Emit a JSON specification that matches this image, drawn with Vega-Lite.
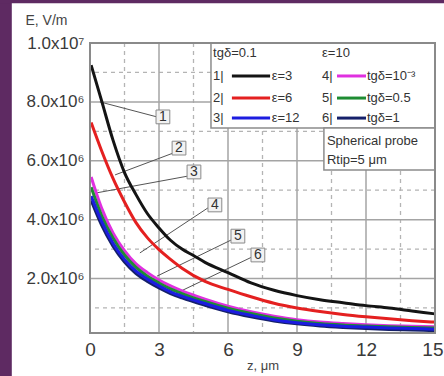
{
  "$schema": "https://vega.github.io/schema/vega-lite/v6.json",
  "width": 345,
  "height": 290,
  "autosize": "none",
  "padding": {"left": 90, "top": 43, "right": 9, "bottom": 43},
  "background": "#ffffff",
  "config": {"font": "Liberation Sans", "view": {"stroke": null}},
  "datasets": {
    "curves": [
      {"s": "1", "z": 0.05, "E": 9250000}, {"s": "1", "z": 0.5, "E": 8050000}, {"s": "1", "z": 1, "E": 6700000}, {"s": "1", "z": 1.5, "E": 5600000}, {"s": "1", "z": 2, "E": 4850000}, {"s": "1", "z": 2.5, "E": 4200000}, {"s": "1", "z": 3, "E": 3720000}, {"s": "1", "z": 3.5, "E": 3300000}, {"s": "1", "z": 4, "E": 3000000}, {"s": "1", "z": 4.5, "E": 2780000}, {"s": "1", "z": 5, "E": 2550000}, {"s": "1", "z": 6, "E": 2200000}, {"s": "1", "z": 7, "E": 1850000}, {"s": "1", "z": 8, "E": 1600000}, {"s": "1", "z": 9, "E": 1420000}, {"s": "1", "z": 10, "E": 1280000}, {"s": "1", "z": 11, "E": 1180000}, {"s": "1", "z": 12, "E": 1080000}, {"s": "1", "z": 13, "E": 1000000}, {"s": "1", "z": 14, "E": 900000}, {"s": "1", "z": 15, "E": 800000},
      {"s": "2", "z": 0.05, "E": 7300000}, {"s": "2", "z": 0.5, "E": 6350000}, {"s": "2", "z": 1, "E": 5400000}, {"s": "2", "z": 1.5, "E": 4600000}, {"s": "2", "z": 2, "E": 3900000}, {"s": "2", "z": 2.5, "E": 3380000}, {"s": "2", "z": 3, "E": 2980000}, {"s": "2", "z": 3.5, "E": 2650000}, {"s": "2", "z": 4, "E": 2350000}, {"s": "2", "z": 5, "E": 1900000}, {"s": "2", "z": 6, "E": 1630000}, {"s": "2", "z": 7, "E": 1380000}, {"s": "2", "z": 8, "E": 1160000}, {"s": "2", "z": 9, "E": 1000000}, {"s": "2", "z": 10, "E": 880000}, {"s": "2", "z": 11, "E": 780000}, {"s": "2", "z": 12, "E": 700000}, {"s": "2", "z": 13, "E": 630000}, {"s": "2", "z": 14, "E": 570000}, {"s": "2", "z": 15, "E": 520000},
      {"s": "4", "z": 0.05, "E": 5450000}, {"s": "4", "z": 0.5, "E": 4400000}, {"s": "4", "z": 1, "E": 3550000}, {"s": "4", "z": 1.5, "E": 2950000}, {"s": "4", "z": 2, "E": 2500000}, {"s": "4", "z": 2.5, "E": 2200000}, {"s": "4", "z": 3, "E": 1950000}, {"s": "4", "z": 3.5, "E": 1750000}, {"s": "4", "z": 4, "E": 1580000}, {"s": "4", "z": 5, "E": 1300000}, {"s": "4", "z": 6, "E": 1060000}, {"s": "4", "z": 7, "E": 870000}, {"s": "4", "z": 8, "E": 720000}, {"s": "4", "z": 9, "E": 600000}, {"s": "4", "z": 10, "E": 520000}, {"s": "4", "z": 11, "E": 470000}, {"s": "4", "z": 12, "E": 430000}, {"s": "4", "z": 13, "E": 400000}, {"s": "4", "z": 14, "E": 380000}, {"s": "4", "z": 15, "E": 360000},
      {"s": "5", "z": 0.05, "E": 5100000}, {"s": "5", "z": 0.5, "E": 4150000}, {"s": "5", "z": 1, "E": 3380000}, {"s": "5", "z": 1.5, "E": 2800000}, {"s": "5", "z": 2, "E": 2380000}, {"s": "5", "z": 2.5, "E": 2080000}, {"s": "5", "z": 3, "E": 1850000}, {"s": "5", "z": 3.5, "E": 1650000}, {"s": "5", "z": 4, "E": 1490000}, {"s": "5", "z": 5, "E": 1220000}, {"s": "5", "z": 6, "E": 990000}, {"s": "5", "z": 7, "E": 810000}, {"s": "5", "z": 8, "E": 660000}, {"s": "5", "z": 9, "E": 550000}, {"s": "5", "z": 10, "E": 470000}, {"s": "5", "z": 11, "E": 420000}, {"s": "5", "z": 12, "E": 390000}, {"s": "5", "z": 13, "E": 360000}, {"s": "5", "z": 14, "E": 340000}, {"s": "5", "z": 15, "E": 320000},
      {"s": "6", "z": 0.05, "E": 4650000}, {"s": "6", "z": 0.5, "E": 3820000}, {"s": "6", "z": 1, "E": 3100000}, {"s": "6", "z": 1.5, "E": 2560000}, {"s": "6", "z": 2, "E": 2170000}, {"s": "6", "z": 2.5, "E": 1900000}, {"s": "6", "z": 3, "E": 1680000}, {"s": "6", "z": 3.5, "E": 1490000}, {"s": "6", "z": 4, "E": 1340000}, {"s": "6", "z": 5, "E": 1090000}, {"s": "6", "z": 6, "E": 870000}, {"s": "6", "z": 7, "E": 700000}, {"s": "6", "z": 8, "E": 560000}, {"s": "6", "z": 9, "E": 460000}, {"s": "6", "z": 10, "E": 390000}, {"s": "6", "z": 11, "E": 340000}, {"s": "6", "z": 12, "E": 300000}, {"s": "6", "z": 13, "E": 270000}, {"s": "6", "z": 14, "E": 250000}, {"s": "6", "z": 15, "E": 230000},
      {"s": "3", "z": 0.05, "E": 4800000}, {"s": "3", "z": 0.5, "E": 3950000}, {"s": "3", "z": 1, "E": 3200000}, {"s": "3", "z": 1.5, "E": 2650000}, {"s": "3", "z": 2, "E": 2250000}, {"s": "3", "z": 2.5, "E": 1980000}, {"s": "3", "z": 3, "E": 1750000}, {"s": "3", "z": 3.5, "E": 1550000}, {"s": "3", "z": 4, "E": 1400000}, {"s": "3", "z": 5, "E": 1150000}, {"s": "3", "z": 6, "E": 920000}, {"s": "3", "z": 7, "E": 750000}, {"s": "3", "z": 8, "E": 600000}, {"s": "3", "z": 9, "E": 500000}, {"s": "3", "z": 10, "E": 430000}, {"s": "3", "z": 11, "E": 380000}, {"s": "3", "z": 12, "E": 350000}, {"s": "3", "z": 13, "E": 320000}, {"s": "3", "z": 14, "E": 300000}, {"s": "3", "z": 15, "E": 280000}
    ],
    "vmajor": [{"g": 3}, {"g": 6}, {"g": 9}, {"g": 12}],
    "vminor": [{"g": 1.5}, {"g": 4.5}, {"g": 7.5}, {"g": 10.5}, {"g": 13.5}],
    "hmajor": [{"g": 2000000}, {"g": 4000000}, {"g": 6000000}, {"g": 8000000}],
    "hminor": [{"g": 1000000}, {"g": 3000000}, {"g": 5000000}, {"g": 7000000}, {"g": 9000000}],
    "bands": [
      {"z1": -4.2, "z2": -3.4, "E1": -2000000, "E2": 12000000},
      {"z1": -4.2, "z2": 17, "E1": 11350000, "E2": 12000000}
    ],
    "boxes": [
      {"z1": 5.26, "z2": 15, "E1": 7110000, "E2": 10000000},
      {"z1": 10.17, "z2": 15, "E1": 5690000, "E2": 7110000}
    ],
    "frame": [{"z1": 0, "z2": 15, "E1": 150000, "E2": 10000000}],
    "leaders": [
      {"z1": 0.43, "E1": 8000000, "z2": 2.91, "E2": 7490000},
      {"z1": 1.09, "E1": 5520000, "z2": 3.61, "E2": 6260000},
      {"z1": 0.22, "E1": 4900000, "z2": 4.26, "E2": 5480000},
      {"z1": 2.17, "E1": 2870000, "z2": 5.13, "E2": 4400000},
      {"z1": 2.91, "E1": 2080000, "z2": 6.22, "E2": 3340000},
      {"z1": 3.78, "E1": 1510000, "z2": 7.04, "E2": 2730000}
    ],
    "callouts": [
      {"t": "1", "z": 3.17, "E": 7490000},
      {"t": "2", "z": 3.87, "E": 6430000},
      {"t": "3", "z": 4.52, "E": 5620000},
      {"t": "4", "z": 5.43, "E": 4500000},
      {"t": "5", "z": 6.43, "E": 3440000},
      {"t": "6", "z": 7.3, "E": 2800000}
    ],
    "legendLines": [
      {"s": "1", "z1": 6.17, "z2": 7.83, "E": 8880000},
      {"s": "2", "z1": 6.17, "z2": 7.83, "E": 8130000},
      {"s": "3", "z1": 6.17, "z2": 7.83, "E": 7450000},
      {"s": "4", "z1": 10.74, "z2": 12.0, "E": 8880000},
      {"s": "5", "z1": 10.74, "z2": 12.0, "E": 8130000},
      {"s": "6", "z1": 10.74, "z2": 12.0, "E": 7450000}
    ],
    "legendText": [
      {"t": "tgδ=0.1", "z": 5.35, "E": 9660000},
      {"t": "ε=10", "z": 10.09, "E": 9660000},
      {"t": "1|", "z": 5.35, "E": 8880000},
      {"t": "2|", "z": 5.35, "E": 8130000},
      {"t": "3|", "z": 5.35, "E": 7450000},
      {"t": "ε=3", "z": 7.9, "E": 8880000},
      {"t": "ε=6", "z": 7.9, "E": 8130000},
      {"t": "ε=12", "z": 7.9, "E": 7450000},
      {"t": "4|", "z": 10.09, "E": 8880000},
      {"t": "5|", "z": 10.09, "E": 8130000},
      {"t": "6|", "z": 10.09, "E": 7450000},
      {"t": "tgδ=10⁻³", "z": 12.04, "E": 8880000},
      {"t": "tgδ=0.5", "z": 12.04, "E": 8130000},
      {"t": "tgδ=1", "z": 12.04, "E": 7450000},
      {"t": "Spherical probe", "z": 10.3, "E": 6680000},
      {"t": "Rtip=5 μm", "z": 10.3, "E": 6020000}
    ]
  },
  "layer": [
    {
      "data": {"name": "curves"},
      "mark": {"type": "line", "strokeWidth": 3, "opacity": 0},
      "encoding": {
        "x": {"field": "z", "type": "quantitative", "scale": {"domain": [0, 15], "nice": false, "zero": false},
          "axis": {"values": [0, 3, 6, 9, 12, 15], "grid": false, "domain": false, "ticks": false, "labelFontSize": 19, "labelColor": "#3a3a3a", "labelPadding": 7, "labelFlush": false, "labelAlign": {"expr": "datum.value >= 15 ? 'right' : 'center'"}, "labelOffset": {"expr": "datum.value >= 15 ? 8 : 0"}, "title": "z, μm", "titleFontSize": 13, "titleFontWeight": "normal", "titleColor": "#444444", "titlePadding": 0, "zindex": 1}},
        "y": {"field": "E", "type": "quantitative", "scale": {"domain": [150000, 10000000], "nice": false, "zero": false},
          "axis": {"values": [2000000, 4000000, 6000000, 8000000, 10000000], "labelExpr": "datum.value > 9999999 ? '1.0x10⁷' : format(datum.value / 1000000, '.1f') + 'x10⁶'", "grid": false, "domain": false, "ticks": false, "labelFontSize": 17, "labelColor": "#3a3a3a", "labelPadding": 6, "labelFlush": false, "title": "E, V/m", "titleAngle": 0, "titleAlign": "left", "titleBaseline": "alphabetic", "titleX": -65, "titleY": -19, "titleFontSize": 14, "titleFontWeight": "normal", "titleColor": "#444444", "zindex": 1}},
        "detail": {"field": "s"}
      }
    },
    {
      "data": {"name": "bands"},
      "mark": {"type": "rect", "fill": "#5e2a62", "clip": false},
      "encoding": {
        "x": {"field": "z1", "type": "quantitative"},
        "x2": {"field": "z2"},
        "y": {"field": "E1", "type": "quantitative"},
        "y2": {"field": "E2"}
      }
    },
    {
      "data": {"name": "vminor"},
      "mark": {"type": "rule", "stroke": "#b4b4b4", "strokeWidth": 1.3, "strokeDash": [4, 4]},
      "encoding": {"x": {"field": "g", "type": "quantitative"}}
    },
    {
      "data": {"name": "hminor"},
      "mark": {"type": "rule", "stroke": "#b4b4b4", "strokeWidth": 1.3, "strokeDash": [4, 4]},
      "encoding": {"y": {"field": "g", "type": "quantitative"}}
    },
    {
      "data": {"name": "vmajor"},
      "mark": {"type": "rule", "stroke": "#a4a4a4", "strokeWidth": 1.5},
      "encoding": {"x": {"field": "g", "type": "quantitative"}}
    },
    {
      "data": {"name": "hmajor"},
      "mark": {"type": "rule", "stroke": "#a4a4a4", "strokeWidth": 1.5},
      "encoding": {"y": {"field": "g", "type": "quantitative"}}
    },
    {
      "data": {"name": "boxes"},
      "mark": {"type": "rect", "fill": "#ffffff", "stroke": "#8c8c8c", "strokeWidth": 1.5},
      "encoding": {
        "x": {"field": "z1", "type": "quantitative"},
        "x2": {"field": "z2"},
        "y": {"field": "E1", "type": "quantitative"},
        "y2": {"field": "E2"}
      }
    },
    {
      "data": {"name": "leaders"},
      "mark": {"type": "rule", "stroke": "#555555", "strokeWidth": 1},
      "encoding": {
        "x": {"field": "z1", "type": "quantitative"},
        "x2": {"field": "z2"},
        "y": {"field": "E1", "type": "quantitative"},
        "y2": {"field": "E2"}
      }
    },
    {
      "data": {"name": "curves"},
      "mark": {"type": "line", "interpolate": "monotone"},
      "encoding": {
        "x": {"field": "z", "type": "quantitative"},
        "y": {"field": "E", "type": "quantitative"},
        "color": {"field": "s", "type": "nominal", "scale": {"domain": ["1", "2", "3", "4", "5", "6"], "range": ["#141414", "#e42020", "#1c1ce0", "#e030e0", "#1e8c32", "#15206a"]}, "legend": null},
        "strokeWidth": {"field": "s", "type": "nominal", "scale": {"domain": ["1", "2", "3", "4", "5", "6"], "range": [3, 3, 4.5, 3, 3, 3.5]}, "legend": null},
        "detail": {"field": "s"},
        "order": {"field": "z", "type": "quantitative"}
      }
    },
    {
      "data": {"name": "callouts"},
      "mark": {"type": "point", "shape": "square", "size": 190, "filled": true, "fill": "#f2f2f2", "stroke": "#8a8a8a", "strokeWidth": 1, "opacity": 1},
      "encoding": {
        "x": {"field": "z", "type": "quantitative"},
        "y": {"field": "E", "type": "quantitative"}
      }
    },
    {
      "data": {"name": "callouts"},
      "mark": {"type": "text", "fontSize": 14, "color": "#333333", "baseline": "middle", "align": "center"},
      "encoding": {
        "x": {"field": "z", "type": "quantitative"},
        "y": {"field": "E", "type": "quantitative"},
        "text": {"field": "t"}
      }
    },
    {
      "data": {"name": "legendLines"},
      "mark": {"type": "rule", "strokeWidth": 3},
      "encoding": {
        "x": {"field": "z1", "type": "quantitative"},
        "x2": {"field": "z2"},
        "y": {"field": "E", "type": "quantitative"},
        "color": {"field": "s", "type": "nominal", "legend": null}
      }
    },
    {
      "data": {"name": "legendText"},
      "mark": {"type": "text", "fontSize": 13, "color": "#333333", "baseline": "middle", "align": "left"},
      "encoding": {
        "x": {"field": "z", "type": "quantitative"},
        "y": {"field": "E", "type": "quantitative"},
        "text": {"field": "t"}
      }
    },
    {
      "data": {"name": "frame"},
      "mark": {"type": "rect", "fill": null, "fillOpacity": 0, "stroke": "#8a8a8a", "strokeWidth": 2},
      "encoding": {
        "x": {"field": "z1", "type": "quantitative"},
        "x2": {"field": "z2"},
        "y": {"field": "E1", "type": "quantitative"},
        "y2": {"field": "E2"}
      }
    }
  ]
}
